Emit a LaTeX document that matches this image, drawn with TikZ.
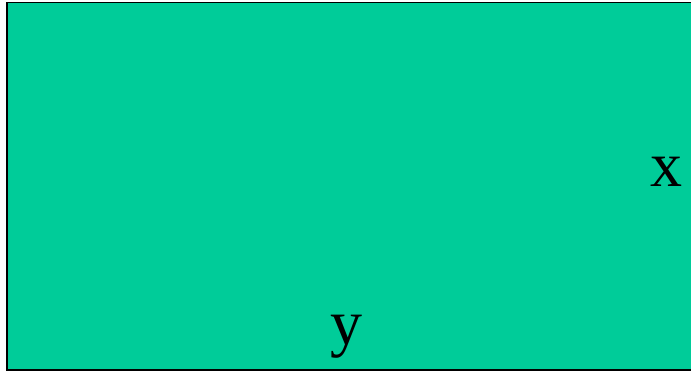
\documentclass[tikz,border=0pt]{standalone}
\usepackage{fontspec}
\setmainfont{Liberation Serif}
\definecolor{fillgreen}{RGB}{0,204,153}
\begin{document}
\begin{tikzpicture}[x=1pt,y=1pt,
  lbl/.style={inner sep=0pt, anchor=base, font=\fontsize{64}{64}\selectfont}]
\useasboundingbox (0,0) rectangle (691,371);
\begin{scope}
\clip (0,0) rectangle (691,371);
\draw[fill=fillgreen, draw=black, line width=1.6pt] (7,368.5) rectangle (694,1.2);
\end{scope}
\node[lbl] (x) at (666,184) {x};
\node[lbl] (y) at (346,26) {y};
\end{tikzpicture}
\end{document}
